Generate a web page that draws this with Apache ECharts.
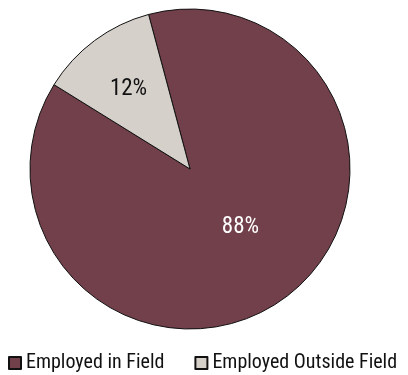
<!DOCTYPE html>
<html>
<head>
<meta charset="utf-8">
<script src="https://cdn.jsdelivr.net/npm/echarts@6/dist/echarts.min.js"></script>
<style>
  html, body { margin: 0; padding: 0; background: #fff; }
  #chart { width: 408px; height: 375px; }
</style>
</head>
<body>
<div id="chart"></div>
<script>
// Employment outcome shares (percent)
const categories = ['Employed in Field', 'Employed Outside Field'];
const shares = [88, 12];
const sliceColors = ['#72404b', '#d6d0cb'];
const labelColors = ['#ffffff', '#111111'];
// nudges applied to each value label after the default inside placement
const labelNudge = [[1, -8], [-12, -13]];

const FONT = '"Liberation Sans Narrow", "Roboto Condensed", "Liberation Sans", Arial, sans-serif';

const chart = echarts.init(document.getElementById('chart'), null, { renderer: 'canvas' });

chart.setOption({
  animation: false,
  backgroundColor: '#ffffff',
  legend: {
    data: categories,
    left: 3,
    top: 348,
    width: 405,
    icon: 'rect',
    itemWidth: 12,
    itemHeight: 12,
    itemGap: 30,
    textStyle: { fontFamily: FONT, fontSize: 20, color: '#111111' }
  },
  series: [{
    type: 'pie',
    center: [190, 169],
    radius: [0, 160],
    startAngle: 105,
    clockwise: true,
    avoidLabelOverlap: false,
    itemStyle: { borderColor: '#111111', borderWidth: 1 },
    label: {
      show: true,
      position: 'inside',
      formatter: '{c}%',
      fontFamily: FONT,
      fontSize: 23
    },
    labelLayout: function (params) {
      const n = labelNudge[params.dataIndex];
      return { dx: n[0], dy: n[1] };
    },
    labelLine: { show: false },
    emphasis: { disabled: true },
    data: categories.map((name, i) => ({
      name: name,
      value: shares[i],
      itemStyle: { color: sliceColors[i] },
      label: { color: labelColors[i] }
    }))
  }]
});
</script>
</body>
</html>
